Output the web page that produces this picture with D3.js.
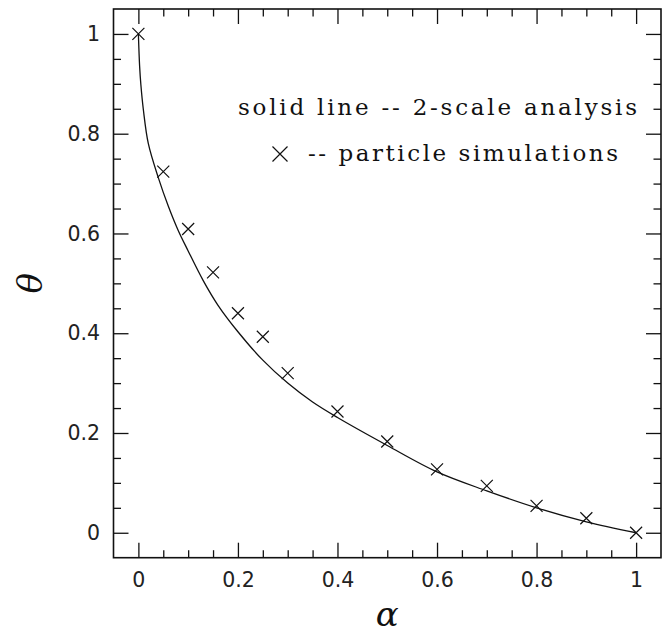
<!DOCTYPE html>
<html>
<head>
<meta charset="utf-8">
<script src="https://cdn.jsdelivr.net/npm/d3@7.9.0/dist/d3.min.js"></script>
<style>
  html, body { margin: 0; padding: 0; background: #fff; }
  svg { display: block; }
  .tick text { font-family: "DejaVu Sans", sans-serif; font-size: 20.5px; fill: #222; }
  .legend { font-family: "DejaVu Serif", serif; font-size: 23px; fill: #111; }
</style>
</head>
<body>
<svg id="chart" width="665" height="633"></svg>
<script>
// particle simulations (crosses)
const simAlpha = [0, 0.05, 0.1, 0.15, 0.2, 0.25, 0.3, 0.4, 0.5, 0.6, 0.7, 0.8, 0.9, 1.0];
const simTheta = [1.0, 0.724, 0.609, 0.522, 0.440, 0.393, 0.320, 0.243, 0.183, 0.127, 0.094, 0.054, 0.029, 0.0];

// 2-scale analysis (solid line)
const curveAlpha = [0, 0.0025, 0.005, 0.01, 0.02, 0.04, 0.06, 0.08, 0.10, 0.13, 0.16, 0.20, 0.25, 0.30, 0.35, 0.40, 0.50, 0.60, 0.70, 0.80, 0.90, 1.0];
const curveTheta = [1.0, 0.935, 0.898, 0.848, 0.780, 0.712, 0.655, 0.606, 0.565, 0.506, 0.456, 0.403, 0.346, 0.300, 0.262, 0.231, 0.175, 0.122, 0.084, 0.050, 0.022, 0.0];

const majorTicks = [0, 0.2, 0.4, 0.6, 0.8, 1];
const minorTicks = d3.range(0, 21).map(i => i * 0.05).filter(v => Math.round(v * 100) % 20 !== 0);

const legendLines = ["solid line -- 2-scale analysis", "-- particle simulations"];

const svg = d3.select("#chart");
const plotLeft = 113.5, plotRight = 661, plotTop = 9, plotBottom = 557.7;

const x = d3.scaleLinear().domain([-0.05, 1.05]).range([plotLeft, plotRight]);
const y = d3.scaleLinear().domain([-0.05, 1.05]).range([plotBottom, plotTop]);

const fmt = d => d === 0 || d === 1 ? String(d) : d3.format(".1f")(d);

// axes: major + minor, ticks pointing in, all four sides
function addAxis(axisFn, scale, transform, withLabels, pad) {
  svg.append("g").attr("transform", transform)
    .call(axisFn(scale).tickValues(majorTicks).tickSizeInner(-15).tickSizeOuter(0)
      .tickPadding(pad).tickFormat(withLabels ? fmt : ""))
    .call(g => g.select(".domain").remove());
  svg.append("g").attr("transform", transform)
    .call(axisFn(scale).tickValues(minorTicks).tickSizeInner(-7.5).tickSizeOuter(0).tickFormat(""))
    .call(g => g.select(".domain").remove());
}
addAxis(d3.axisBottom, x, `translate(0,${plotBottom})`, true, 14.5);
addAxis(d3.axisTop, x, `translate(0,${plotTop})`, false, 0);
addAxis(d3.axisLeft, y, `translate(${plotLeft},0)`, true, 13.5);
addAxis(d3.axisRight, y, `translate(${plotRight},0)`, false, 0);
svg.selectAll(".tick line").attr("stroke", "#111").attr("stroke-width", 1.3);

svg.append("rect")
  .attr("x", plotLeft).attr("y", plotTop)
  .attr("width", plotRight - plotLeft).attr("height", plotBottom - plotTop)
  .attr("fill", "none").attr("stroke", "#111").attr("stroke-width", 1.6);

// solid line
const lineData = curveAlpha.map((a, i) => [a, curveTheta[i]]);
svg.append("path")
  .datum(lineData)
  .attr("fill", "none")
  .attr("stroke", "#111")
  .attr("stroke-width", 1.3)
  .attr("d", d3.line().x(d => x(d[0])).y(d => y(d[1])).curve(d3.curveCatmullRom.alpha(0.5)));

// crosses
const cross = (cx, cy, h) => `M${cx - h},${cy - h}L${cx + h},${cy + h}M${cx - h},${cy + h}L${cx + h},${cy - h}`;
svg.append("g").selectAll("path")
  .data(simAlpha.map((a, i) => [a, simTheta[i]]))
  .enter().append("path")
  .attr("d", d => cross(x(d[0]), y(d[1]), 6))
  .attr("stroke", "#111").attr("stroke-width", 1.2).attr("fill", "none");

// legend
svg.append("text").attr("class", "legend")
  .attr("x", 238).attr("y", 115)
  .attr("textLength", 399).attr("lengthAdjust", "spacing")
  .text(legendLines[0]);
svg.append("path").attr("d", cross(280, 154, 7.5))
  .attr("stroke", "#111").attr("stroke-width", 1.2);
svg.append("text").attr("class", "legend")
  .attr("x", 308).attr("y", 161)
  .attr("textLength", 310).attr("lengthAdjust", "spacing")
  .text(legendLines[1]);

// axis titles
svg.append("text")
  .attr("x", (plotLeft + plotRight) / 2).attr("y", 626)
  .attr("text-anchor", "middle")
  .attr("font-family", "DejaVu Serif, serif").attr("font-style", "italic")
  .attr("font-size", 34).attr("fill", "#111")
  .text("α");
svg.append("text")
  .attr("transform", `translate(42,${(plotTop + plotBottom) / 2}) rotate(-90)`)
  .attr("text-anchor", "middle")
  .attr("font-family", "DejaVu Serif, serif").attr("font-style", "italic")
  .attr("font-size", 34).attr("fill", "#111")
  .text("θ");
</script>
</body>
</html>
